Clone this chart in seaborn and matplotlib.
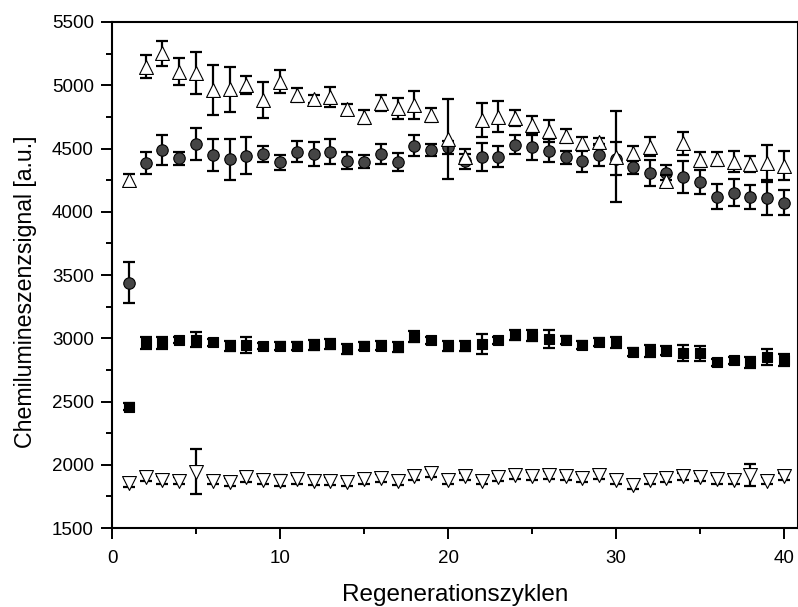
import numpy as np
import pandas as pd
import matplotlib
matplotlib.use("Agg")
import matplotlib.pyplot as plt
import seaborn as sns
from matplotlib.ticker import MultipleLocator

cycles = list(range(1, 41))

tri_up = [4252, 5147, 5253, 5108, 5095, 4963, 4968, 5002, 4884, 5028,
          4923, 4892, 4905, 4810, 4752, 4860, 4818, 4844, 4765, 4573,
          4436, 4726, 4752, 4739, 4686, 4639, 4600, 4541, 4554, 4436,
          4462, 4515, 4246, 4541, 4410, 4415, 4397, 4378, 4389, 4363]
tri_up_err = [50, 90, 100, 110, 165, 200, 180, 70, 140, 90,
              55, 30, 80, 45, 55, 60, 85, 110, 55, 315,
              60, 135, 120, 65, 70, 90, 55, 50, 30, 360,
              60, 75, 45, 90, 60, 55, 85, 60, 140, 115]

circ = [3440, 4384, 4489, 4423, 4536, 4449, 4415, 4444, 4455, 4392,
        4476, 4455, 4476, 4405, 4397, 4455, 4392, 4523, 4489, 4510,
        4400, 4436, 4436, 4528, 4510, 4483, 4431, 4398, 4449, 4420,
        4352, 4305, 4310, 4273, 4234, 4120, 4152, 4120, 4107, 4073]
circ_err = [160, 85, 120, 50, 125, 130, 160, 145, 65, 60,
            80, 95, 100, 70, 50, 80, 70, 80, 45, 50,
            60, 110, 80, 75, 100, 90, 50, 85, 85, 130,
            55, 105, 60, 125, 95, 100, 110, 95, 130, 100]

sq = [2460, 2962, 2962, 2988, 2988, 2967, 2940, 2948, 2940, 2940,
      2940, 2948, 2954, 2914, 2940, 2940, 2930, 3014, 2983, 2940,
      2940, 2956, 2983, 3028, 3022, 2993, 2988, 2948, 2969, 2967,
      2893, 2901, 2901, 2885, 2883, 2809, 2825, 2809, 2851, 2830]
sq_err = [30, 45, 45, 25, 60, 25, 40, 65, 25, 30,
          30, 40, 40, 40, 30, 35, 40, 40, 25, 40,
          40, 80, 30, 40, 40, 70, 30, 30, 30, 45,
          30, 45, 35, 65, 60, 25, 25, 45, 65, 45]

tri_dn = [1860, 1903, 1882, 1876, 1947, 1876, 1864, 1903, 1882, 1876,
          1887, 1876, 1874, 1864, 1887, 1895, 1874, 1913, 1934, 1882,
          1908, 1876, 1903, 1921, 1913, 1921, 1913, 1895, 1921, 1882,
          1843, 1882, 1895, 1908, 1903, 1887, 1882, 1921, 1876, 1908]
tri_dn_err = [35, 30, 30, 30, 175, 30, 35, 35, 30, 40,
              35, 35, 30, 35, 35, 30, 35, 35, 30, 35,
              30, 30, 30, 30, 30, 30, 30, 30, 30, 30,
              35, 30, 30, 30, 30, 35, 30, 85, 30, 30]

sns.set_theme(style="ticks")
plt.rcParams['font.family'] = ['Liberation Sans', 'DejaVu Sans']
plt.rcParams['text.color'] = 'black'
plt.rcParams['axes.labelcolor'] = 'black'

fig = plt.figure(figsize=(7.98, 6.07), dpi=100)
ax = fig.add_axes([0.1404, 0.130, 0.859, 0.8338])

series = [
    ("sq", sq, sq_err, "s", "black", 45, 3),
    ("tri_dn", tri_dn, tri_dn_err, "v", "white", 100, 4),
    ("circ", circ, circ_err, "o", "#454545", 68, 5),
    ("tri_up", tri_up, tri_up_err, "^", "white", 100, 6),
]

for name, vals, errs, marker, fc, size, z in series:
    df = pd.DataFrame({"x": cycles, "y": vals, "e": errs})
    ax.errorbar(df["x"], df["y"], yerr=df["e"], fmt="none", ecolor="black",
                elinewidth=1.6, capsize=4, capthick=1.6, zorder=z)
    sns.scatterplot(data=df, x="x", y="y", marker=marker, color=fc,
                    edgecolor="black", linewidth=0.8, s=size, ax=ax,
                    zorder=z + 0.5, legend=False)

ax.set_xlim(0, 40.8)
ax.set_ylim(1500, 5500)
ax.xaxis.set_major_locator(MultipleLocator(10))
ax.xaxis.set_minor_locator(MultipleLocator(5))
ax.yaxis.set_major_locator(MultipleLocator(500))
ax.yaxis.set_minor_locator(MultipleLocator(250))
ax.tick_params(which="both", direction="out", width=1.4, colors="black",
               labelsize=13.5, pad=5)
ax.tick_params(axis="x", which="both", pad=8)
ax.tick_params(which="major", length=8)
ax.tick_params(which="minor", length=4.5)
for sp in ax.spines.values():
    sp.set_linewidth(1.5)
    sp.set_color("black")
ax.set_xlabel("Regenerationszyklen", fontsize=17.5, labelpad=12)
ax.set_ylabel("Chemilumineszenzsignal [a.u.]", fontsize=16.7)
ax.yaxis.set_label_coords(-0.109, 0.466)

fig.savefig("out.png", dpi=100)
